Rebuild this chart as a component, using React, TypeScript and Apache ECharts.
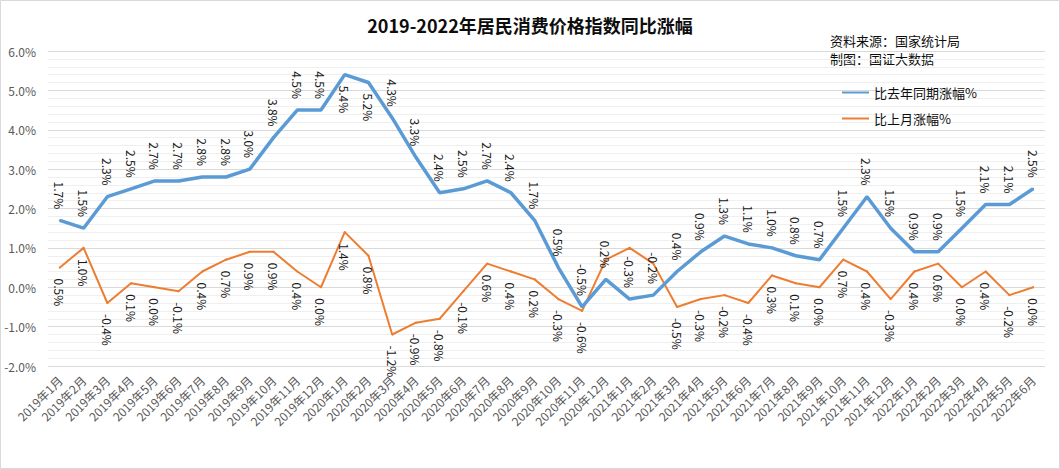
import React, { useEffect, useRef } from "react";
import * as echarts from "echarts";

const categories: string[] = [
  "2019年1月", "2019年2月", "2019年3月", "2019年4月", "2019年5月", "2019年6月",
  "2019年7月", "2019年8月", "2019年9月", "2019年10月", "2019年11月", "2019年12月",
  "2020年1月", "2020年2月", "2020年3月", "2020年4月", "2020年5月", "2020年6月",
  "2020年7月", "2020年8月", "2020年9月", "2020年10月", "2020年11月", "2020年12月",
  "2021年1月", "2021年2月", "2021年3月", "2021年4月", "2021年5月", "2021年6月",
  "2021年7月", "2021年8月", "2021年9月", "2021年10月", "2021年11月", "2021年12月",
  "2022年1月", "2022年2月", "2022年3月", "2022年4月", "2022年5月", "2022年6月",
];

const yoy: number[] = [
  1.7, 1.5, 2.3, 2.5, 2.7, 2.7, 2.8, 2.8, 3.0, 3.8, 4.5, 4.5,
  5.4, 5.2, 4.3, 3.3, 2.4, 2.5, 2.7, 2.4, 1.7, 0.5, -0.5, 0.2,
  -0.3, -0.2, 0.4, 0.9, 1.3, 1.1, 1.0, 0.8, 0.7, 1.5, 2.3, 1.5,
  0.9, 0.9, 1.5, 2.1, 2.1, 2.5,
];

const mom: number[] = [
  0.5, 1.0, -0.4, 0.1, 0.0, -0.1, 0.4, 0.7, 0.9, 0.9, 0.4, 0.0,
  1.4, 0.8, -1.2, -0.9, -0.8, -0.1, 0.6, 0.4, 0.2, -0.3, -0.6, 0.7,
  1.0, 0.6, -0.5, -0.3, -0.2, -0.4, 0.3, 0.1, 0.0, 0.7, 0.4, -0.3,
  0.4, 0.6, 0.0, 0.4, -0.2, 0.0,
];

// months whose 比上月 label is not shown in the reference
const momHiddenLabels: string[] = ["2020年12月", "2021年1月", "2021年2月"];
// months whose 比去年同期 label sits below the line in the reference
const yoyLabelsBelow: string[] = ["2020年1月", "2020年2月"];

const yTicks = { min: -2, max: 6, interval: 1 };

const seriesNames = ["比去年同期涨幅%", "比上月涨幅%"];
const titleText = "2019-2022年居民消费价格指数同比涨幅";
const sourceLines = ["资料来源：国家统计局", "制图：国证大数据"];

const FONT = "'Noto Sans CJK SC', 'Noto Sans', sans-serif";

export default function App() {
  const ref = useRef<HTMLDivElement>(null);

  useEffect(() => {
    if (!ref.current) return;
    const chart = echarts.init(ref.current, undefined, { renderer: "svg" });
    const pct = (v: number) => v.toFixed(1) + "%";

    chart.setOption({
      animation: false,
      backgroundColor: "#ffffff",
      textStyle: { fontFamily: FONT },
      title: {
        text: titleText,
        left: "center",
        top: 11,
        textStyle: { fontFamily: FONT, fontSize: 18, fontWeight: "bold", color: "#0d0d0d" },
      },
      graphic: [
        {
          type: "rect",
          shape: { x: 0.5, y: 0.5, width: 1059, height: 468 },
          style: { fill: "none", stroke: "#d9d9d9", lineWidth: 1 },
          silent: true,
        },
        {
          type: "text",
          left: 830,
          top: 34,
          style: { text: sourceLines[0], fontSize: 13, fontFamily: FONT, fill: "#0d0d0d" },
        },
        {
          type: "text",
          left: 830,
          top: 52,
          style: { text: sourceLines[1], fontSize: 13, fontFamily: FONT, fill: "#0d0d0d" },
        },
      ],
      legend: {
        orient: "vertical",
        left: 836,
        top: 81,
        itemWidth: 27,
        itemHeight: 14,
        itemGap: 13,
        itemStyle: { opacity: 0 },
        textStyle: { fontFamily: FONT, fontSize: 13, color: "#0d0d0d" },
        data: seriesNames,
      },
      grid: { left: 48, right: 15, top: 51, bottom: 103, containLabel: false },
      xAxis: {
        type: "category",
        data: categories,
        boundaryGap: true,
        axisLine: { show: false },
        axisTick: { show: false },
        axisLabel: {
          interval: 0,
          rotate: 45,
          fontSize: 12,
          color: "#595959",
          fontFamily: FONT,
          margin: 12,
        },
        splitLine: { show: false },
      },
      yAxis: {
        type: "value",
        min: yTicks.min,
        max: yTicks.max,
        interval: yTicks.interval,
        axisLine: { show: false },
        axisTick: { show: false },
        axisLabel: {
          formatter: (v: number) => pct(v),
          fontSize: 12,
          color: "#595959",
          fontFamily: FONT,
          margin: 12,
        },
        splitLine: { show: true, lineStyle: { color: "#d9d9d9", width: 1 } },
        minorTick: { show: false, splitNumber: 5 },
        minorSplitLine: { show: true, lineStyle: { color: "#efefef", width: 1 } },
      },
      series: [
        {
          name: seriesNames[0],
          type: "line",
          data: yoy.map((v, i) =>
            yoyLabelsBelow.includes(categories[i])
              ? { value: v, label: { position: "bottom", align: "left" } }
              : { value: v }
          ),
          symbol: "circle",
          symbolSize: 2,
          showSymbol: true,
          itemStyle: { color: "#5B9BD5" },
          color: "#5B9BD5",
          lineStyle: { color: "#5B9BD5", width: 3.5 },
          z: 3,
          label: {
            show: true,
            position: "top",
            distance: 10,
            rotate: -90,
            align: "right",
            verticalAlign: "middle",
            fontSize: 12,
            color: "#1a1a1a",
            fontFamily: FONT,
            formatter: (p: any) => pct(p.value),
          },
        },
        {
          name: seriesNames[1],
          type: "line",
          data: mom.map((v, i) => ({
            value: v,
            label: { show: !momHiddenLabels.includes(categories[i]) },
          })),
          symbol: "circle",
          symbolSize: 2,
          showSymbol: true,
          itemStyle: { color: "#ED7D31" },
          color: "#ED7D31",
          lineStyle: { color: "#ED7D31", width: 2 },
          z: 2,
          label: {
            show: true,
            position: "bottom",
            distance: 10,
            rotate: -90,
            align: "left",
            verticalAlign: "middle",
            fontSize: 12,
            color: "#1a1a1a",
            fontFamily: FONT,
            formatter: (p: any) => pct(p.value),
          },
        },
      ],
    });

    return () => chart.dispose();
  }, []);

  return (
    <div
      ref={ref}
      style={{ position: "fixed", left: 0, top: 0, width: 1060, height: 469 }}
    />
  );
}
